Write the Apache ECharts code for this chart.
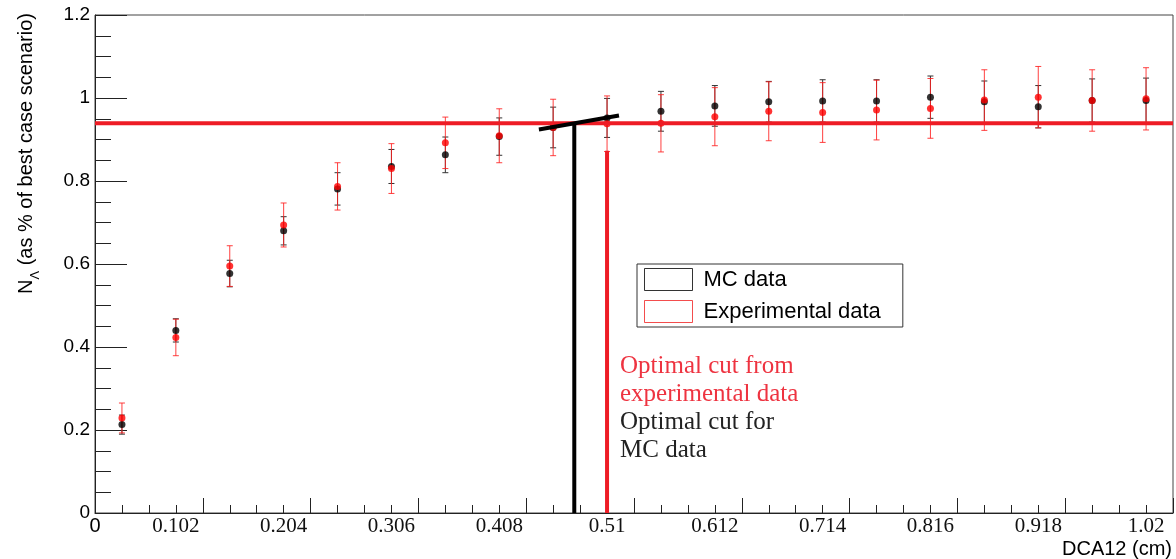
<!DOCTYPE html>
<html><head><meta charset="utf-8">
<script src="https://cdn.jsdelivr.net/npm/echarts@6/dist/echarts.min.js"></script>
<style>html,body{margin:0;padding:0;background:#fff}#c{width:1176px;height:559px}</style>
</head><body><div id="c"></div>
<script>
// ---- data ----
const binCentres = [0.051, 0.102, 0.153, 0.204, 0.255, 0.306, 0.357, 0.408, 0.459, 0.51,
                    0.561, 0.612, 0.663, 0.714, 0.765, 0.816, 0.867, 0.918, 0.969, 1.02];
const mcValues  = [0.213, 0.440, 0.577, 0.680, 0.781, 0.835, 0.863, 0.907, 0.929, 0.952,
                   0.968, 0.981, 0.991, 0.993, 0.993, 1.002, 0.991, 0.979, 0.994, 0.994];
const mcErrors  = [0.023, 0.028, 0.032, 0.034, 0.039, 0.041, 0.043, 0.045, 0.049, 0.047,
                   0.048, 0.049, 0.049, 0.051, 0.051, 0.051, 0.050, 0.051, 0.052, 0.054];
const expValues = [0.229, 0.423, 0.595, 0.694, 0.787, 0.830, 0.892, 0.909, 0.929, 0.938,
                   0.939, 0.955, 0.968, 0.965, 0.971, 0.975, 0.995, 1.002, 0.994, 0.998];
const expErrors = [0.036, 0.044, 0.049, 0.053, 0.057, 0.060, 0.062, 0.065, 0.068, 0.067,
                   0.069, 0.070, 0.071, 0.072, 0.072, 0.072, 0.073, 0.074, 0.074, 0.075];
const xTickLabels = ['0', '0.102', '0.204', '0.306', '0.408', '0.51', '0.612', '0.714', '0.816', '0.918', '1.02'];
const xAxisExtent = [0.0255, 1.0455];
const plateauLevel = 0.939;
const cutExperimental = 0.51, cutExperimentalTop = 0.873;
const cutMC = 0.479, cutMCTop = 0.939;
const tangentSegment = [[0.4455, 0.924], [0.5213, 0.958]];
const seriesNames = ['MC data', 'Experimental data'];

// ---- build chart ----
const labelPositions = xTickLabels.map(t => Math.max(parseFloat(t), xAxisExtent[0]));
function labelFor(v) {
  let best = 0, bd = Infinity;
  labelPositions.forEach((p, i) => { const d = Math.abs(p - v); if (d < bd) { bd = d; best = i; } });
  return best === 0 ? '{s|' + xTickLabels[0] + '}' : xTickLabels[best];
}
function errorBar(color, capColor) {
  return function (params, api) {
    const x = api.value(0), lo = api.value(1), hi = api.value(2);
    const a = api.coord([x, lo]), b = api.coord([x, hi]);
    const c = 3;
    return { type: 'group', children: [
      { type: 'line', shape: { x1: a[0], y1: a[1], x2: b[0], y2: b[1] }, style: { stroke: color, lineWidth: 1 } },
      { type: 'line', shape: { x1: b[0] - c, y1: b[1], x2: b[0] + c, y2: b[1] }, style: { stroke: capColor, lineWidth: 1 } },
      { type: 'line', shape: { x1: a[0] - c, y1: a[1], x2: a[0] + c, y2: a[1] }, style: { stroke: capColor, lineWidth: 1 } }
    ]};
  };
}
const mcErr = binCentres.map((x, i) => [x, mcValues[i] - mcErrors[i], mcValues[i] + mcErrors[i]]);
const expErr = binCentres.map((x, i) => [x, expValues[i] - expErrors[i], expValues[i] + expErrors[i]]);
const mcPts = binCentres.map((x, i) => [x, mcValues[i]]);
const expPts = binCentres.map((x, i) => [x, expValues[i]]);

const sans = '"Liberation Sans", Arial, sans-serif';
const serif = '"Liberation Serif", "Times New Roman", serif';
const chart = echarts.init(document.getElementById('c'), null, { renderer: 'canvas' });
chart.setOption({
  animation: false,
  backgroundColor: '#fff',
  grid: { left: 95, right: 3, top: 15, bottom: 46, show: true, borderColor: '#444', borderWidth: 1, backgroundColor: 'transparent' },
  xAxis: {
    type: 'value', min: xAxisExtent[0], max: xAxisExtent[1], interval: 0.102,
    axisLine: { show: true, onZero: false, lineStyle: { color: '#222', width: 1 } },
    axisTick: { show: true, inside: true, length: 15, lineStyle: { color: '#222' } },
    minorTick: { show: true, splitNumber: 4, length: 8, lineStyle: { color: '#222' } },
    splitLine: { show: false },
    axisLabel: {
      customValues: labelPositions, formatter: labelFor, margin: 3,
      fontFamily: serif, fontSize: 21, color: '#111',
      rich: { s: { fontFamily: sans, fontSize: 20, color: '#000' } }
    }
  },
  yAxis: {
    type: 'value', min: 0, max: 1.2, interval: 0.2,
    axisLine: { show: true, onZero: false, lineStyle: { color: '#222', width: 1 } },
    axisTick: { show: true, inside: true, length: 32, lineStyle: { color: '#222' } },
    minorTick: { show: true, splitNumber: 4, length: 16, lineStyle: { color: '#222' } },
    splitLine: { show: false },
    axisLabel: { margin: 5, fontFamily: sans, fontSize: 19, color: '#000' }
  },
  legend: {
    orient: 'vertical', left: 637, top: 264,
    padding: [4, 22, 4, 7], itemGap: 9, itemWidth: 48, itemHeight: 22,
    borderColor: '#333', borderWidth: 1, backgroundColor: '#fff',
    textStyle: { fontFamily: sans, fontSize: 22, color: '#000', padding: [0, 0, 0, 6] },
    selectedMode: false,
    data: [
      { name: seriesNames[0], icon: 'rect', itemStyle: { color: '#fff', borderColor: '#000', borderWidth: 1 } },
      { name: seriesNames[1], icon: 'rect', itemStyle: { color: '#fff', borderColor: '#f02020', borderWidth: 1 } }
    ]
  },
  series: [
    { type: 'custom', name: 'mc-err', data: mcErr, encode: { x: 0, y: [1, 2] }, renderItem: errorBar('#333', '#333'), z: 2 },
    { type: 'custom', name: 'exp-err', data: expErr, encode: { x: 0, y: [1, 2] }, renderItem: errorBar('rgba(255,30,30,0.85)', 'rgba(255,30,30,0.85)'), z: 3 },
    { type: 'scatter', name: seriesNames[0], data: mcPts, symbol: 'circle', symbolSize: 7, itemStyle: { color: '#000' }, z: 4 },
    { type: 'scatter', name: seriesNames[1], data: expPts, symbol: 'circle', symbolSize: 7, itemStyle: { color: '#ff0000' }, z: 5 },
    { type: 'line', name: 'plateau', data: [[xAxisExtent[0], plateauLevel], [xAxisExtent[1], plateauLevel]], symbol: 'none',
      lineStyle: { color: '#ee1c25', width: 4 }, z: 6, silent: true },
    { type: 'line', name: 'cut-exp', data: [[cutExperimental, 0], [cutExperimental, cutExperimentalTop]], symbol: 'none',
      lineStyle: { color: '#ee1c25', width: 4 }, z: 6, silent: true },
    { type: 'line', name: 'cut-mc', data: [[cutMC, 0], [cutMC, cutMCTop]], symbol: 'none',
      lineStyle: { color: '#000', width: 4 }, z: 7, silent: true },
    { type: 'line', name: 'tangent', data: tangentSegment, symbol: 'none',
      lineStyle: { color: '#000', width: 4 }, z: 7, silent: true }
  ],
  graphic: [
    { type: 'text', x: 26, y: 13, rotation: Math.PI / 2, z: 100,
      style: { text: '{n|N}{s|Λ}{n| (as % of best case scenario)}', align: 'right', verticalAlign: 'middle', fill: '#000',
        rich: { n: { fontFamily: sans, fontSize: 20, lineHeight: 32, verticalAlign: 'middle' },
                s: { fontFamily: sans, fontSize: 13, lineHeight: 13, verticalAlign: 'bottom' } } } },
    { type: 'text', x: 1172, y: 549, z: 100,
      style: { text: 'DCA12 (cm)', align: 'right', verticalAlign: 'middle', font: '20px ' + sans, fill: '#000' } },
    { type: 'text', x: 620, y: 352, z: 100,
      style: { text: 'Optimal cut from\nexperimental data', font: '25px ' + serif, lineHeight: 28, fill: '#ee3340' } },
    { type: 'text', x: 620, y: 408, z: 100,
      style: { text: 'Optimal cut for\nMC data', font: '25px ' + serif, lineHeight: 28, fill: '#222' } }
  ]
});
</script></body></html>
